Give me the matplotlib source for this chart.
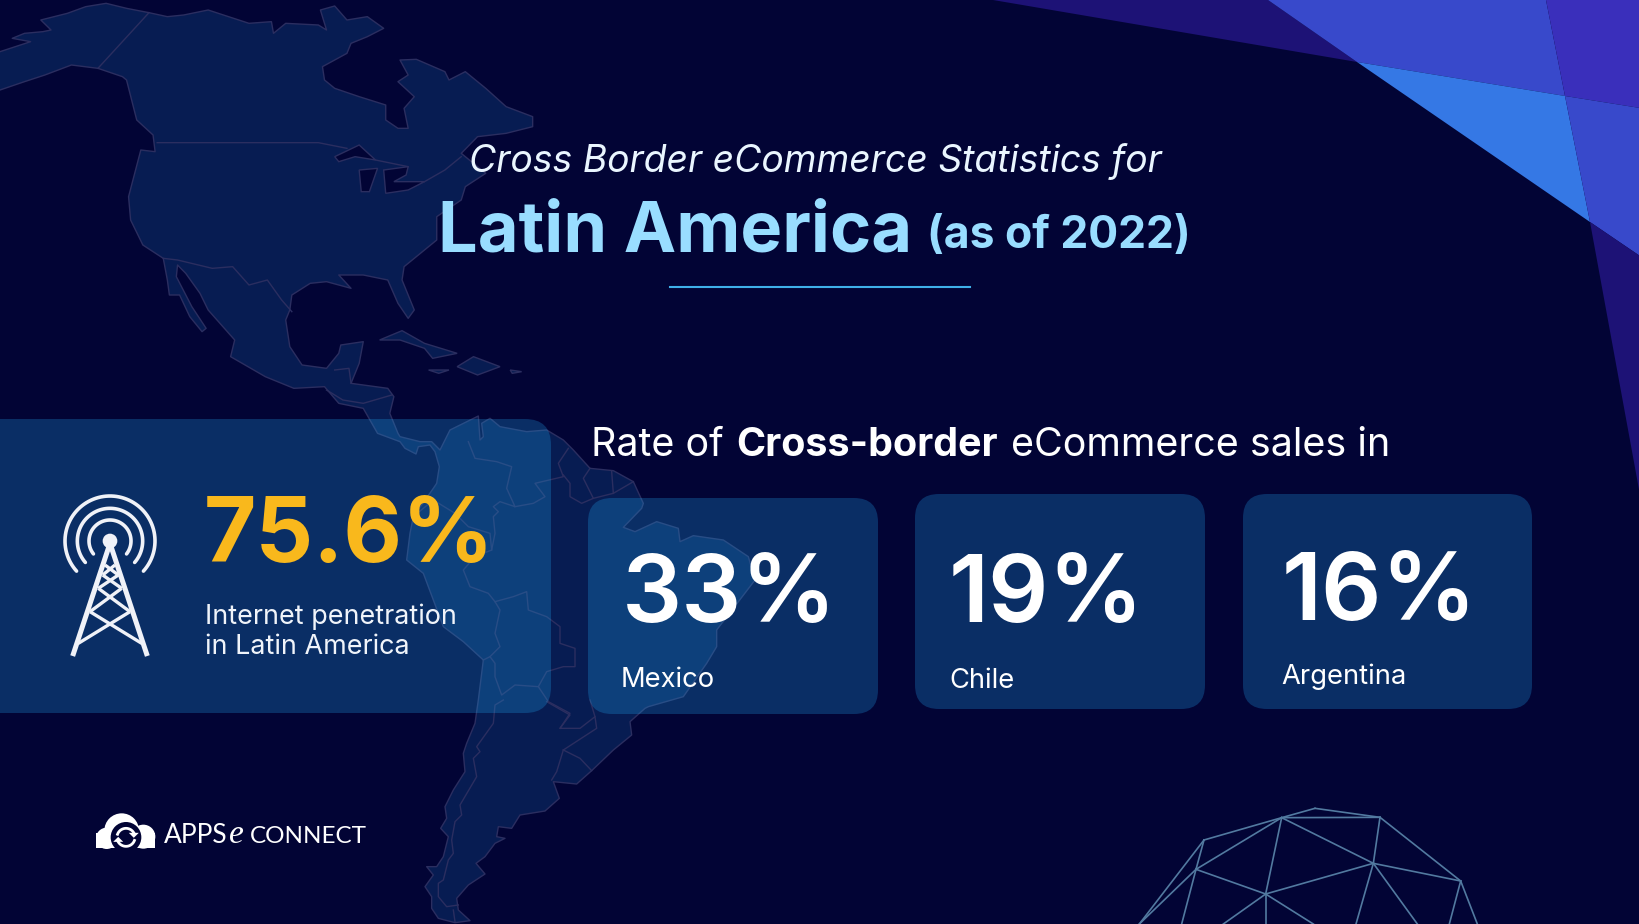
import numpy as np
import matplotlib
matplotlib.use("Agg")
import matplotlib.pyplot as plt
from matplotlib.patches import Polygon, Circle, FancyBboxPatch, Rectangle

# chart values
penetration = 75.6
countries = ["Mexico", "Chile", "Argentina"]
rates = [33, 19, 16]

BG = "#020435"
MAP_FILL = "#071c52"
MAP_EDGE = "#2b2e60"
CARD = (34 / 255, 172 / 255, 248 / 255, 0.25)


# crops of the reference were traced at different scales
def z1(pts):
    return np.array(pts, float) / [2.45, 3]


def z7(pts):
    return np.array(pts, float) / 3 + [560, 470]


def z8(pts):
    return np.array(pts, float) / 3 + [400, 400]


def z9(pts):
    return np.array(pts, float) / 3 + [400, 700]


def z4(pts):
    return np.array(pts, float) / 3 + [1100, 780]


def z5(pts):
    return np.array(pts, float) / 3 + [50, 480]


def z6(pts):
    return np.array(pts, float) / 3 + [80, 800]


fig = plt.figure(figsize=(16.4, 9.24), dpi=100, facecolor=BG)
ax = fig.add_axes([0, 0, 1, 1])
ax.set_xlim(0, 1640)
ax.set_ylim(924, 0)
ax.axis("off")

# corner triangles
corner = [
    ([(993, 0), (1268, 0), (1357, 62)], "#1d1276"),
    ([(1268, 0), (1546, 0), (1565, 96), (1357, 62)], "#3849cb"),
    ([(1546, 0), (1640, 0), (1640, 108), (1565, 96)], "#3a2fbb"),
    ([(1357, 62), (1565, 96), (1590, 222)], "#3578e5"),
    ([(1565, 96), (1640, 108), (1640, 256), (1590, 222)], "#3849cb"),
    ([(1590, 222), (1640, 256), (1640, 495)], "#1d1276"),
]
for pts, col in corner:
    ax.add_patch(Polygon(pts, closed=True, fc=col, ec="none", zorder=1))

# continent outline, clockwise from Alaska
north = z1([
    (-30, 165), (0, 155), (50, 135), (75, 125), (30, 115), (60, 100), (105, 95), (125, 90), (100, 60), (165, 40),
    (210, 20), (260, 10), (310, 25), (365, 38), (410, 50), (450, 45), (510, 30), (560, 50), (610, 70), (665, 65),
    (670, 100), (700, 70), (780, 75), (800, 90), (785, 30), (820, 18), (850, 60), (900, 50), (940, 85), (900, 110),
    (860, 130), (850, 160), (790, 200), (795, 240), (820, 265), (880, 290), (945, 315), (945, 360), (975, 385),
    (1000, 385), (990, 325), (1015, 290), (975, 245), (1000, 225), (980, 180), (1020, 178), (1090, 215), (1100, 240),
    (1140, 215), (1190, 265), (1240, 320), (1305, 350), (1305, 380), (1240, 400), (1170, 410), (1130, 460),
    (1190, 520), (1140, 560), (1130, 600), (1070, 650), (1070, 720), (1030, 760), (990, 800), (985, 840), (1015, 930),
    (1000, 955), (975, 910), (950, 840), (890, 825), (830, 825), (860, 865), (800, 845), (760, 850), (715, 885),
    (710, 930), (700, 960), (710, 1040), (740, 1095), (800, 1105), (830, 1060), (835, 1035), (890, 1025), (880, 1090),
    (860, 1150), (950, 1165), (965, 1190), (955, 1240), (975, 1300),
])
south_top = z8([
    (0, 110), (60, 125), (95, 125), (120, 150), (150, 90), (235, 48), (240, 120), (250, 110), (245, 70), (270, 55),
    (300, 80), (380, 95), (440, 90), (490, 120), (520, 150), (570, 205), (640, 212),
])
south_east = z7([
    (220, 35), (250, 100), (245, 115), (190, 172), (225, 185), (290, 155), (355, 175), (360, 215), (400, 197),
    (490, 210), (565, 260), (585, 330), (470, 480), (470, 530), (440, 580), (370, 680), (265, 710),
])
south_bottom = z9([
    (735, 25), (690, 65), (695, 105), (640, 150), (575, 212), (530, 252), (460, 245), (478, 295), (435, 333),
    (360, 345), (335, 385), (295, 380), (290, 410), (315, 415), (285, 430), (255, 470), (228, 490), (255, 522),
    (205, 555), (170, 595), (175, 630), (210, 662), (165, 668), (115, 655), (95, 625), (95, 590), (75, 560),
    (100, 525), (80, 500), (110, 500), (130, 470), (145, 410), (122, 385), (140, 355), (135, 320), (160, 270),
    (195, 215), (190, 160), (200, 130), (225, 70), (235, 0),
])
south_west = z8([
    (250, 780), (190, 725), (130, 680), (100, 600), (70, 520), (20, 480), (30, 400), (40, 350), (100, 265),
    (110, 250), (118, 200), (105, 155), (90, 135), (55, 140), (48, 162), (15, 145), (0, 125),
])
north_west = z1([
    (925, 1300), (890, 1225), (830, 1210), (795, 1160), (720, 1165), (650, 1130), (565, 1070), (575, 1020),
    (510, 930), (490, 880), (455, 820), (435, 795), (432, 830), (470, 920), (505, 985), (495, 995), (465, 950),
    (440, 885), (415, 885), (410, 840), (400, 775), (350, 735), (320, 660), (315, 590), (345, 450), (380, 455),
    (375, 405), (335, 360), (310, 240), (300, 230), (240, 205), (175, 195), (110, 225), (60, 245), (0, 270), (-30, 280),
])
mainland = np.vstack([north, south_top, south_east, south_bottom, south_west, north_west])
ax.add_patch(Polygon(mainland, closed=True, fc=MAP_FILL, ec=MAP_EDGE, lw=1.0, joinstyle="round", zorder=2))

islands = [
    z1([(930, 1020), (985, 992), (1040, 1030), (1120, 1060), (1060, 1075), (1040, 1045), (980, 1020)]),
    z1([(1120, 1100), (1160, 1070), (1225, 1100), (1170, 1125)]),
    z1([(1050, 1110), (1100, 1110), (1075, 1120)]),
    z1([(1250, 1110), (1278, 1115), (1255, 1120)]),
]
for pts in islands:
    ax.add_patch(Polygon(pts, closed=True, fc=MAP_FILL, ec=MAP_EDGE, lw=1.0, zorder=2))

lakes = [
    z1([(820, 470), (880, 435), (920, 480), (870, 470), (830, 485)]),
    z1([(880, 510), (925, 505), (905, 575), (885, 575)]),
    z1([(940, 510), (1000, 500), (995, 525), (965, 545), (1040, 545), (1000, 570), (945, 580)]),
]
for pts in lakes:
    ax.add_patch(Polygon(pts, closed=True, fc=BG, ec=MAP_EDGE, lw=1.0, zorder=2))

borders = [
    z1([(365, 38), (240, 205)]),
    z1([(385, 428), (780, 428), (850, 445)]),
    z1([(920, 480), (1000, 500)]),
    z1([(1040, 545), (1090, 510), (1130, 470)]),
    z1([(400, 775), (435, 780), (520, 805), (570, 800), (610, 855), (655, 840), (690, 900), (715, 935)]),
    z1([(820, 1110), (855, 1105), (860, 1150)]),
    z1([(800, 1170), (840, 1200), (890, 1210), (960, 1185)]),
    z8([(205, 125), (225, 175), (290, 185), (335, 200), (320, 265), (345, 320), (300, 305), (280, 320), (295, 335),
        (280, 350), (285, 400), (275, 450), (225, 470), (190, 510), (210, 560), (265, 580), (285, 605), (300, 630),
        (285, 700), (300, 740), (270, 770), (250, 780)]),
    z8([(40, 350), (100, 300), (165, 340), (205, 380), (270, 400), (275, 450)]),
    z8([(285, 605), (340, 590), (380, 575), (385, 630), (440, 650), (480, 680), (480, 730), (525, 745), (525, 800),
        (490, 800), (440, 815), (415, 860), (345, 855), (305, 885), (285, 830), (285, 790), (270, 770)]),
    z8([(415, 860), (445, 905), (510, 940), (480, 985)]),
    z8([(345, 320), (400, 310), (435, 290), (405, 250), (490, 230), (475, 190), (505, 145)]),
    z8([(490, 225), (510, 250), (510, 290), (545, 310), (580, 295), (550, 235), (570, 205)]),
    z8([(580, 295), (640, 280), (635, 215)]),
    z8([(640, 280), (700, 245)]),
    z9([(310, 0), (285, 15), (280, 70), (230, 140), (240, 155), (220, 175), (230, 230), (180, 315), (185, 345),
        (165, 365), (155, 420), (160, 460), (145, 480), (130, 540), (115, 550), (115, 590), (140, 620), (175, 615)]),
    z9([(160, 630), (165, 665)]),
    z9([(490, 150), (470, 215), (455, 240)]),
    z9([(490, 150), (540, 175), (575, 212)]),
    z9([(490, 150), (590, 85), (585, 50), (540, 85), (480, 85), (510, 45), (440, 5)]),
    z9([(585, 50), (570, 0)]),
]
for pts in borders:
    ax.plot(pts[:, 0], pts[:, 1], color=MAP_EDGE, lw=1.0, zorder=2.1)

# wire sphere, bottom right
A, B, C, D, E = [(645, 85), (840, 112), (545, 113), (312, 180), (288, 268)]
F, G, H = [(820, 250), (497, 342), (1082, 303)]
sphere_edges = [
    (A, B), (A, C), (C, B), (C, D), (C, E), (C, G), (C, F), (B, F), (B, H), (D, E), (D, (118, 432)), (E, (118, 432)),
    (E, (245, 432)), (E, G), (G, F), (F, H), (F, (768, 432)), (F, (952, 432)), (G, (370, 432)), (G, (497, 432)),
    (G, (640, 432)), (H, (1048, 432)), (H, (1132, 432)),
]
for p, q in sphere_edges:
    pts = z4([p, q])
    ax.plot(pts[:, 0], pts[:, 1], color="#527aa0", lw=1.2, zorder=2)


def rounded(x0, y0, x1, y1, r):
    box = FancyBboxPatch((x0 + r, y0 + r), x1 - x0 - 2 * r, y1 - y0 - 2 * r,
                         boxstyle=f"round,pad={r},rounding_size={r}", fc=CARD, ec="none", zorder=3)
    ax.add_patch(box)


rounded(-60, 419, 551, 713, 26)
card_boxes = [(588, 498, 878, 714), (915, 494, 1205, 709), (1243, 494, 1532, 709)]
for bx in card_boxes:
    rounded(*bx, 24)

# titles
FONT = "Inter"
ax.text(469, 172, "Cross Border eCommerce Statistics for", family=FONT, style="italic", weight="normal",
        fontsize=26.9, color="#eaf6ff", va="baseline", zorder=5)
ax.text(438, 252, "Latin America", family=FONT, weight="bold", fontsize=50.6, color="#99ddff", va="baseline", zorder=5)
ax.text(927, 248, "(as of 2022)", family=FONT, weight="bold", fontsize=32, color="#99ddff", va="baseline", zorder=5)
ax.plot([670, 970], [287, 287], color="#3fb0e8", lw=1.5, zorder=5)

ax.text(591, 456, "Rate of", family=FONT, fontsize=28.4, color="white", va="baseline", zorder=5)
ax.text(736, 456, "Cross-border", family=FONT, weight="bold", fontsize=28.4, color="white", va="baseline", zorder=5)
ax.text(1011, 456, "eCommerce sales in", family=FONT, fontsize=28.4, color="white", va="baseline", zorder=5)

# left panel
ax.text(204, 562, f"{penetration}%", family=FONT, weight="bold", fontsize=65, color="#f9b81c", va="baseline", zorder=5)
ax.text(205, 624, "Internet penetration", family=FONT, fontsize=19.4, color="#f0f4fa", va="baseline", zorder=5)
ax.text(205, 654, "in Latin America", family=FONT, fontsize=19.4, color="#f0f4fa", va="baseline", zorder=5)

# country cards
rate_pos = [(622, 622), (949, 622), (1282, 620)]
name_pos = [(621, 687), (949, 688), (1281, 684)]
for rate, name, rp, np_ in zip(rates, countries, rate_pos, name_pos):
    ax.text(rp[0], rp[1], f"{rate}%", family=FONT, weight="semibold", fontsize=68, color="white", va="baseline", zorder=5)
    ax.text(np_[0], np_[1], name, family=FONT, fontsize=19.7, color="white", va="baseline", zorder=5)

# tower icon
ICON = "#f0f2f8"
cx, cy = z5([(180, 183)])[0]
for r_px, ang in [(63, 38), (98, 41), (135, 42)]:
    t = np.radians(np.linspace(180 + ang * -1, 360 + ang, 80))
    ax.plot(cx + r_px / 3 * np.cos(t), cy + r_px / 3 * np.sin(t), color=ICON, lw=2.6, solid_capstyle="round", zorder=5)
ax.add_patch(Circle((cx, cy), 22 / 3, fc=ICON, ec="none", zorder=5))
legs = [[(180, 190), (68, 528)], [(180, 190), (292, 528)]]
for seg in legs:
    pts = z5(seg)
    ax.plot(pts[:, 0], pts[:, 1], color=ICON, lw=3.6, solid_capstyle="butt", zorder=5)
braces = [
    [(85, 490), (240, 395)], [(275, 490), (120, 395)], [(120, 395), (215, 325)], [(240, 395), (145, 325)],
    [(145, 325), (205, 285)], [(215, 325), (158, 285)], [(158, 285), (195, 255)], [(205, 285), (165, 255)],
]
for seg in braces:
    pts = z5(seg)
    ax.plot(pts[:, 0], pts[:, 1], color=ICON, lw=2.4, solid_capstyle="butt", zorder=5)

# logo
for c, r in [((125, 92), 52), ((80, 115), 32), ((190, 110), 36)]:
    ax.add_patch(Circle(z6([c])[0], r / 3, fc="white", ec="none", zorder=5))
x0, y0 = z6([(48, 100)])[0]
x1, y1 = z6([(226, 145)])[0]
ax.add_patch(Rectangle((x0, y0), x1 - x0, y1 - y0, fc="white", ec="none", zorder=5))
lc = z6([(138, 112)])[0]
ax.add_patch(Circle(lc, 46 / 3, fc=BG, ec="none", zorder=5.1))
for a0, a1 in [(200, 330), (20, 150)]:
    t = np.radians(np.linspace(a0, a1, 30))
    ax.plot(lc[0] + 9 * np.cos(t), lc[1] + 9 * np.sin(t), color="white", lw=2.0, zorder=5.2)
    # arrow head at the end of each arc
    tip = np.array([lc[0] + 9 * np.cos(t[-1]), lc[1] + 9 * np.sin(t[-1])])
    ax.add_patch(Polygon(tip + np.array([[-5, 0], [5, 0], [0, 5 if a0 > 100 else -5]]),
                         closed=True, fc="white", ec="none", zorder=5.2))
ax.text(164, 843, "APPS", family="Lato", fontsize=19, color="white", va="baseline", zorder=5)
ax.text(229, 843, "e", family="Liberation Serif", style="italic", fontsize=24, color="white", va="baseline", zorder=5)
ax.text(250, 843, "CONNECT", family="Lato", fontsize=17.5, color="white", va="baseline", zorder=5)

fig.savefig("out.png", dpi=100, facecolor=BG)
